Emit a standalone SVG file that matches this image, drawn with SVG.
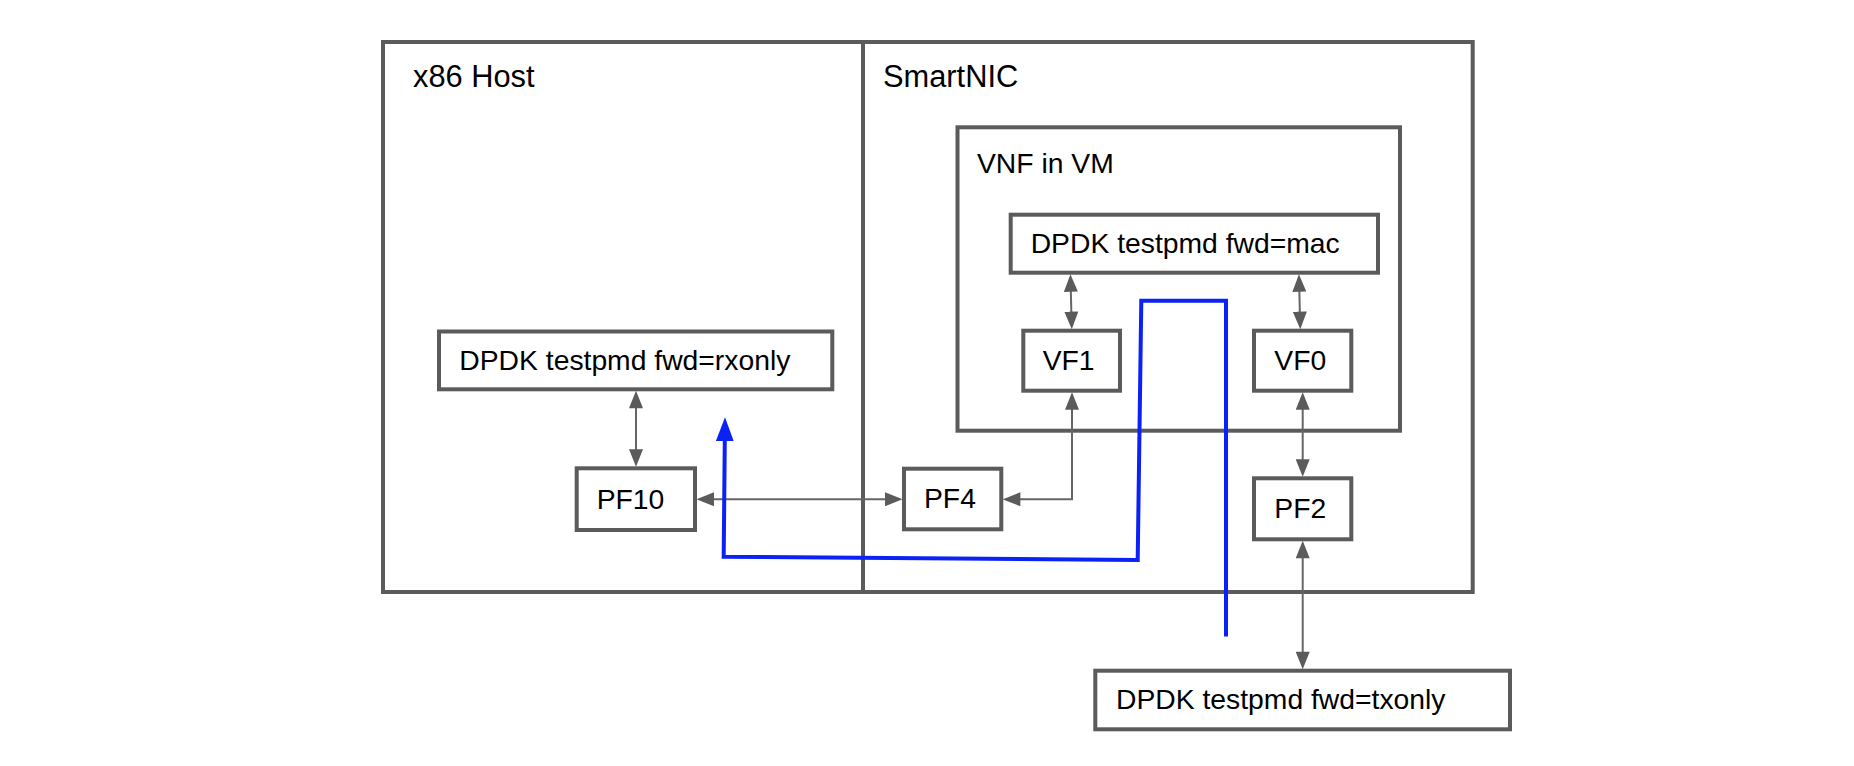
<svg xmlns="http://www.w3.org/2000/svg" width="1854" height="766" viewBox="0 0 1854 766">
<style>
.box{fill:#ffffff;stroke:#5b5b5b;stroke-width:4}
.frame{fill:none;stroke:#5b5b5b;stroke-width:4}
.lbl{font-family:"Liberation Sans",Arial,sans-serif;font-size:28.3px;fill:#000}
.big{font-size:30.8px}
.conn{fill:none;stroke:#666666;stroke-width:2;marker-start:url(#ah);marker-end:url(#ah)}
.flow{fill:none;stroke:#0a22f5;stroke-width:4;marker-end:url(#bh)}
</style>
<defs>
<marker id="ah" markerUnits="userSpaceOnUse" markerWidth="18" markerHeight="14" refX="2" refY="6.75" orient="auto-start-reverse" viewBox="0 0 17 13.5">
<path d="M0,0 L17,6.75 L0,13.5 z" fill="#5b5b5b"/>
</marker>
<marker id="bh" markerUnits="userSpaceOnUse" markerWidth="24" markerHeight="18" refX="2" refY="9" orient="auto" viewBox="0 0 24 18">
<path d="M0,0 L24,9 L0,18 z" fill="#0a22f5"/>
</marker>
</defs>
<rect width="1854" height="766" fill="#ffffff"/>

<g id="host">
<rect class="frame" x="383" y="42" width="480" height="550"/>
<text class="lbl big" x="413" y="87">x86 Host</text>
</g>
<g id="smartnic">
<rect class="frame" x="863" y="42" width="609.7" height="550"/>
<text class="lbl big" x="883" y="87">SmartNIC</text>
</g>
<g id="vnf">
<rect class="frame" x="957.5" y="127.3" width="442.5" height="303.4"/>
<text class="lbl" x="977" y="172.7">VNF in VM</text>
</g>
<g id="testpmd-mac">
<rect class="box" x="1010.7" y="214.7" width="367.3" height="58"/>
<text class="lbl" x="1030.7" y="252.7">DPDK testpmd fwd=mac</text>
</g>
<g id="vf1">
<rect class="box" x="1023.3" y="330.7" width="96.7" height="60"/>
<text class="lbl" x="1042.7" y="370">VF1</text>
</g>
<g id="vf0">
<rect class="box" x="1254" y="330.7" width="97.3" height="60"/>
<text class="lbl" x="1274.3" y="370">VF0</text>
</g>
<g id="testpmd-rxonly">
<rect class="box" x="439" y="331.5" width="393.3" height="57.8"/>
<text class="lbl" x="459.3" y="370">DPDK testpmd fwd=rxonly</text>
</g>
<g id="pf10">
<rect class="box" x="576.7" y="468.3" width="118.3" height="61.7"/>
<text class="lbl" x="596.7" y="509">PF10</text>
</g>
<g id="pf4">
<rect class="box" x="904" y="468.7" width="97.3" height="60.6"/>
<text class="lbl" x="924" y="508.3">PF4</text>
</g>
<g id="pf2">
<rect class="box" x="1254" y="478.3" width="97.3" height="61"/>
<text class="lbl" x="1274.3" y="518.3">PF2</text>
</g>
<g id="testpmd-txonly">
<rect class="box" x="1095.3" y="670.7" width="414.7" height="58.6"/>
<text class="lbl" x="1116" y="709.3">DPDK testpmd fwd=txonly</text>
</g>

<g id="connectors">
<line class="conn" x1="636" y1="406.3" x2="636" y2="451.3"/>
<line class="conn" x1="712" y1="499.3" x2="887" y2="499.3"/>
<path class="conn" d="M1018.3,499.3 H1072 V407.7"/>
<line class="conn" x1="1070.8" y1="289.7" x2="1071.4" y2="313.7"/>
<line class="conn" x1="1299.3" y1="289.7" x2="1299.9" y2="313.7"/>
<line class="conn" x1="1302.7" y1="407.7" x2="1302.7" y2="461.3"/>
<line class="conn" x1="1302.7" y1="556.3" x2="1302.7" y2="653.7"/>
<polyline class="flow" points="1226,636.5 1226,300.7 1141.3,300.7 1137.7,560 723.7,556.7 724.8,439.3"/>
</g>
</svg>
